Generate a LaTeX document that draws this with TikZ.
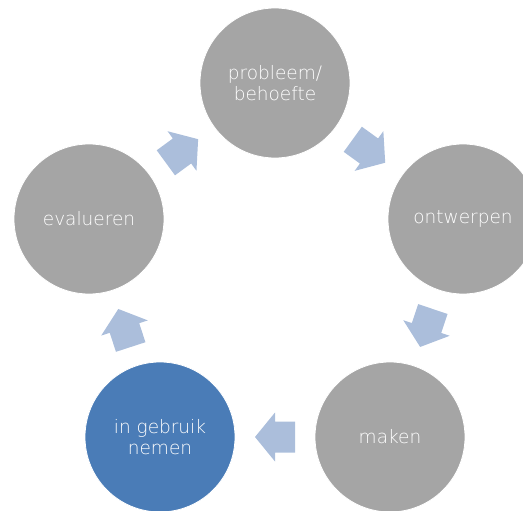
\documentclass[tikz,border=0pt]{standalone}
\usepackage{fontspec}
\setmainfont{DejaVu Sans ExtraLight}
\usetikzlibrary{calc}
\definecolor{stepgray}{RGB}{165,165,165}
\definecolor{stepblue}{RGB}{74,124,183}
\definecolor{arrowblue}{RGB}{171,190,219}
\definecolor{textwhite}{RGB}{255,255,255}
\tikzset{
  stepcircle/.style={circle, fill=stepgray, draw=white, line width=0.8pt,
    minimum size=150pt, inner sep=0pt, text=textwhite, align=center,
    font=\fontsize{18.5}{21}\selectfont},
  activecircle/.style={stepcircle, fill=stepblue},
  blockarrow/.pic={\fill[arrowblue] (-20,-15.5) -- (0,-15.5) -- (0,-24.5) -- (20,0)
     -- (0,24.5) -- (0,15.5) -- (-20,15.5) -- cycle;}
}
\begin{document}
\begin{tikzpicture}[x=1pt,y=-1pt]
\useasboundingbox (0,0) rectangle (523,511);
\clip (0,0) rectangle (523,511);
\node[stepcircle] (probleem) at (275,83) {probleem/\\behoefte};
\node[stepcircle] (ontwerpen) at (463,219) {ontwerpen};
\node[stepcircle] (maken) at (390,437) {maken};
\node[activecircle] (gebruik) at (160,437) {in gebruik\\nemen};
\node[stepcircle] (evalueren) at (89,219) {evalueren};
\path (evalueren) -- (probleem) pic[pos=0.5, sloped, allow upside down] {blockarrow};
\path (probleem) -- (ontwerpen) pic[pos=0.5, sloped, allow upside down] {blockarrow};
\path (ontwerpen) -- (maken) pic[pos=0.5, sloped, allow upside down] {blockarrow};
\path (maken) -- (gebruik) pic[pos=0.5, sloped, allow upside down] {blockarrow};
\path (gebruik) -- (evalueren) pic[pos=0.5, sloped, allow upside down] {blockarrow};
\end{tikzpicture}
\end{document}
